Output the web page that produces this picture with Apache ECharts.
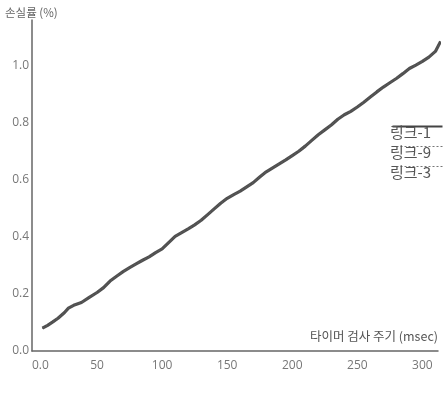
<!DOCTYPE html>
<html>
<head>
<meta charset="utf-8">
<script src="https://cdn.jsdelivr.net/npm/echarts@6/dist/echarts.min.js"></script>
<style>
  html, body { margin: 0; padding: 0; background: #fff; }
  #chart { width: 444px; height: 397px; }
</style>
</head>
<body>
<div id="chart"></div>
<script>
// Timer check period (msec)
const periods = [8, 12, 16, 20, 25, 28, 32, 38, 44, 50, 55, 60, 65, 70, 75, 80, 85, 90, 95, 100,
  105, 110, 115, 120, 125, 130, 135, 140, 145, 150, 155, 160, 165, 170, 175, 180, 185, 190, 195, 200,
  205, 210, 215, 220, 225, 230, 235, 240, 245, 250, 255, 260, 265, 270, 275, 280, 285, 290, 295, 300,
  305, 310, 314];
// Loss rate (%) per link
const lossLink1 = [0.080, 0.090, 0.102, 0.115, 0.135, 0.150, 0.160, 0.170, 0.188, 0.205, 0.222, 0.245,
  0.262, 0.278, 0.292, 0.305, 0.318, 0.330, 0.345, 0.358, 0.380, 0.402, 0.415, 0.428, 0.442, 0.458,
  0.478, 0.498, 0.518, 0.535, 0.548, 0.560, 0.575, 0.590, 0.610, 0.628, 0.642, 0.656, 0.670, 0.685,
  0.700, 0.718, 0.738, 0.758, 0.775, 0.792, 0.812, 0.828, 0.840, 0.855, 0.872, 0.890, 0.908, 0.925,
  0.940, 0.955, 0.972, 0.990, 1.002, 1.015, 1.030, 1.050, 1.085];
const lossLink9 = lossLink1.slice();
const lossLink3 = lossLink1.slice();
const seriesNames = ['링크-1', '링크-9', '링크-3'];
const xTicks = [0, 50, 100, 150, 200, 250, 300];
const yTicks = [0.0, 0.2, 0.4, 0.6, 0.8, 1.0];

const FONT = '"Noto Sans CJK KR", "Noto Sans", sans-serif';
const chart = echarts.init(document.getElementById('chart'), null, { renderer: 'canvas' });

const pairs = arr => periods.map((p, i) => [p, arr[i]]);

// Legend drawn as a line over each name, stacked at the right
const legendItems = [];
seriesNames.forEach((name, i) => {
  const y0 = 124 + i * 20;
  legendItems.push({
    type: 'line', left: 390, top: y0,
    shape: { x1: 0, y1: 0, x2: 50, y2: 0 },
    style: i === 0 ? { stroke: '#444', lineWidth: 2 } : { stroke: '#777', lineWidth: 1, lineDash: [2, 2] }
  });
  legendItems.push({
    type: 'text', left: 390, top: y0 + 1,
    style: { text: name, fill: '#555', font: '15px ' + FONT }
  });
});

chart.setOption({
  animation: false,
  backgroundColor: '#fff',
  grid: { left: 32, right: 6, top: 20, bottom: 46 },
  xAxis: {
    type: 'value', min: 0, max: 312, interval: 50,
    name: '타이머 검사 주기 (msec)', nameLocation: 'end', nameGap: 0,
    nameTextStyle: {
      color: '#555', fontSize: 12.5, fontFamily: FONT,
      align: 'right', verticalAlign: 'bottom', padding: [0, 0, 8, 0]
    },
    axisLine: { lineStyle: { color: '#666', width: 1.5 } },
    axisTick: { show: false },
    splitLine: { show: false },
    axisLabel: {
      color: '#777', fontSize: 12, fontFamily: 'Open Sans, sans-serif', margin: 9,
      showMaxLabel: false, alignMinLabel: 'left',
      formatter: v => xTicks.indexOf(v) < 0 ? '' : (v === 0 ? '0.0' : String(v))
    }
  },
  yAxis: {
    type: 'value', min: 0, max: 1.16, interval: 0.2,
    name: '손실률 (%)', nameLocation: 'end', nameGap: 2,
    nameTextStyle: { color: '#666', fontSize: 11.5, fontFamily: FONT, align: 'left', padding: [0, 0, 0, -27] },
    axisLine: { show: true, lineStyle: { color: '#666', width: 1.5 } },
    axisTick: { show: false },
    splitLine: { show: false },
    axisLabel: {
      color: '#777', fontSize: 12, fontFamily: 'Open Sans, sans-serif', margin: 3,
      showMaxLabel: false,
      formatter: v => yTicks.some(t => Math.abs(t - v) < 1e-6) ? v.toFixed(1) : ''
    }
  },
  series: [
    { name: seriesNames[0], type: 'line', data: pairs(lossLink1), symbol: 'none',
      lineStyle: { color: '#505050', width: 3.2 } },
    { name: seriesNames[1], type: 'line', data: pairs(lossLink9), symbol: 'none',
      lineStyle: { color: '#5a5a5a', width: 1, type: [2, 2] } },
    { name: seriesNames[2], type: 'line', data: pairs(lossLink3), symbol: 'none',
      lineStyle: { color: '#5a5a5a', width: 1, type: [2, 2] } }
  ],
  graphic: legendItems
});
</script>
</body>
</html>
